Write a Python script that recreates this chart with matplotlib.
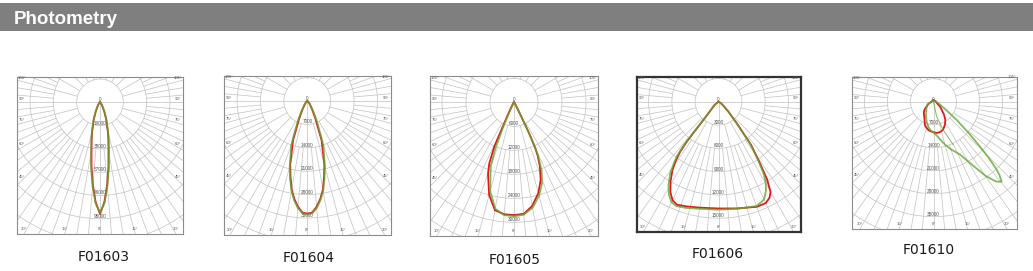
import numpy as np
import matplotlib
matplotlib.use('Agg')
import matplotlib.pyplot as plt
from matplotlib.patches import Circle, Rectangle

W, H = 1033, 271

MODELS = ['F01603', 'F01604', 'F01605', 'F01606', 'F01610']
RING_STEP = [19000, 7000, 6000, 3000, 7000]  # cd per ring

# photometric curves: angle from nadir (deg, negative = left), intensity (cd)
F01603_ANG = [-180, -90, -60, -45, -35, -25, -20, -15, -12.5, -10, -7.5, -5, -2.5, 0,
              2.5, 5, 7.5, 10, 12.5, 15, 20, 25, 35, 45, 60, 90, 180]
F01603_RED = [0, 0, 200, 900, 2700, 8200, 14800, 24900, 31600, 39900, 53100, 67300, 81500, 91000,
              81500, 67300, 53100, 39900, 31600, 24900, 14800, 8200, 2700, 900, 200, 0, 0]
F01603_GREEN = [0, 0, 250, 1000, 3000, 8800, 15500, 26000, 33000, 42000, 55000, 69000, 82500, 90000,
                82500, 69000, 55000, 42000, 33000, 26000, 15500, 8800, 3000, 1000, 250, 0, 0]

F01604_ANG = [-180, -90, -60, -50, -40, -30, -25, -20, -15, -12.5, -10, -7.5, -5, -2.5, 0,
              2.5, 5, 7.5, 10, 12.5, 15, 20, 25, 30, 40, 50, 60, 90, 180]
F01604_RED = [0, 0, 100, 300, 1000, 2800, 5600, 12500, 19750, 23200, 26900, 29600, 31800, 33400, 33700,
              33400, 31800, 29600, 26900, 23200, 19750, 12500, 5600, 2800, 1000, 300, 100, 0, 0]
F01604_GREEN = [0, 0, 100, 400, 1200, 3500, 7000, 14000, 20300, 23800, 27300, 30000, 32200, 33600, 34000,
                33600, 32200, 30000, 27300, 23800, 20300, 14000, 7000, 3500, 1200, 400, 100, 0, 0]

F01605_ANG = [-180, -90, -40, -30, -27, -25, -24, -22, -20, -15, -10, -5, 0,
              5, 10, 15, 19, 22, 24, 25, 26, 27, 30, 40, 90, 180]
F01605_RED = [0, 0, 300, 1000, 2500, 6000, 12000, 16500, 19000, 24000, 27400, 28100, 28200,
              28000, 26300, 23500, 20500, 17300, 14500, 12500, 8500, 4000, 1200, 300, 0, 0]
F01605_GREEN = [0, 0, 200, 600, 1500, 3000, 6000, 12500, 17000, 23000, 27000, 28300, 28500,
                28200, 26800, 24200, 21500, 18500, 15000, 12000, 8000, 4500, 1500, 300, 0, 0]

F01606_ANG = [-180, -90, -50, -45, -40, -39, -38.5, -37.5, -36, -34, -31, -28, -25, -22, -17, -10, -5, 0,
              5, 10, 20, 25, 28, 30, 32, 34, 37, 40, 45, 50, 60, 90, 180]
F01606_RED = [0, 0, 600, 1000, 2500, 4500, 6500, 8100, 9300, 10600, 12000, 13200, 14000, 14300, 14100, 13850, 13750, 13750,
              13800, 13950, 14400, 14400, 14000, 13400, 11800, 9500, 7000, 3800, 1800, 900, 300, 0, 0]
F01606_GREEN = [0, 0, 700, 1200, 3000, 5000, 7000, 8700, 9800, 11100, 12500, 13600, 14300, 14500, 14300, 14000, 13900, 13900,
                13900, 14000, 14300, 13900, 13000, 12200, 11000, 9200, 6800, 3700, 1700, 800, 300, 0, 0]

F01610_RED_ANG = [-180, -135, -90, -65, -48, -41, -29, -21, -18, -10, -6, 0, 6, 10, 15, 20, 26.5, 33,
                  37.5, 40, 45, 50, 53, 60, 72, 90, 135, 180]
F01610_RED = [400, 500, 700, 1800, 3750, 4500, 5700, 7400, 7900, 8800, 9000, 9300, 9550, 9500, 9300, 8800, 7800, 6600,
              5400, 4800, 3500, 2900, 2500, 1500, 1000, 700, 500, 400]
F01610_GREEN_ANG = [-180, -135, -90, -65, -48, -41, -29, -21, -18, -10, -6, 0, 6, 10, 15, 20, 26.5, 31, 35,
                    38, 40.4, 42, 43, 44.5, 46, 48.5, 51.7, 56, 62, 72, 90, 135, 180]
F01610_GREEN = [300, 400, 600, 2000, 2900, 3300, 4800, 6000, 6600, 8100, 8700, 9400, 10500, 11700, 13500, 15400, 17900, 22000, 27500,
                30800, 32000, 30000, 28000, 24000, 19700, 14000, 9000, 5000, 2800, 1600, 800, 400, 300]
# faint second green trace starting at the origin
F01610_GREEN2_ANG = [8, 12, 19, 24.6]
F01610_GREEN2 = [0, 4660, 9100, 14500]

CURVES = [
    [(F01603_ANG, F01603_RED), (F01603_ANG, F01603_GREEN)],
    [(F01604_ANG, F01604_RED), (F01604_ANG, F01604_GREEN)],
    [(F01605_ANG, F01605_RED), (F01605_ANG, F01605_GREEN)],
    [(F01606_ANG, F01606_RED), (F01606_ANG, F01606_GREEN)],
    [(F01610_RED_ANG, F01610_RED), (F01610_GREEN_ANG, F01610_GREEN), (F01610_GREEN2_ANG, F01610_GREEN2)],
]

# layout in pixels: box (left, top, right, bottom), center, ring spacing, label (x, baseline)
BOXES = [(17, 77, 183, 234), (224, 76, 391, 235), (430, 76, 598, 236), (637, 77, 801, 232), (852, 77, 1017, 229)]
CENTERS = [(100, 102.3), (307.3, 101), (514, 102.3), (718.5, 101.7), (933.5, 101.7)]
RING_PX = [23.3, 23.4, 24.0, 23.3, 23.0]
LABEL_POS = [(104, 261), (309, 262.5), (515, 263.5), (718, 258.5), (929, 253.5)]

RED = '#e3161b'
GREEN = '#67a634'
GRID = '#c6c6c6'
TXT = '#555555'
STYLES = [(RED, 1.3, 1.0), (GREEN, 1.3, 0.8), (GREEN, 0.7, 0.8)]


def draw_panel(fig, box, center, ring_px, step, curves, heavy):
    left, top, right, bottom = box
    cx, cy = center
    ax = fig.add_axes([left / W, 1 - bottom / H, (right - left) / W, (bottom - top) / H])
    k = step / ring_px
    ax.set_xlim((left - cx) * k, (right - cx) * k)
    ax.set_ylim(-(bottom - cy) * k, (cy - top) * k)
    ax.set_xticks([])
    ax.set_yticks([])
    for sp in ax.spines.values():
        sp.set_color('#333333' if heavy else '#8c8c8c')
        sp.set_linewidth(1.6 if heavy else 0.8)

    # polar grid
    for n in range(1, 13):
        ax.add_patch(Circle((0, 0), n * step, fill=False, ec=GRID, lw=0.55))
    far = 14 * step
    for a in range(-175, 185, 5):
        if a in (0, 90, -90):
            r0 = 0
        elif a % 15 == 0:
            r0 = step
        else:
            r0 = 2 * step
        t = np.radians(a)
        ax.plot([r0 * np.sin(t), far * np.sin(t)], [-r0 * np.cos(t), -far * np.cos(t)],
                color=GRID, lw=0.55, zorder=1)

    # ring values
    ax.text(0, 0, '0', ha='center', va='bottom', fontsize=3.3, color=TXT, family='Liberation Sans')
    for n in range(1, 6):
        ax.text(0, -n * step, str(n * step), ha='center', va='bottom', fontsize=3.3,
                color=TXT, family='Liberation Sans')

    # angle labels on the frame
    xl, xr = left - cx, right - cx
    yb, yt = bottom - cy, cy - top
    for a in (105, 90, 75, 60, 45, 30, 15, 0):
        for side in (-1, 1):
            if a == 0 and side == 1:
                continue
            t = np.radians(a)
            sx, cy_ = np.sin(t), np.cos(t)
            t_side = (xr if side > 0 else -xl) / sx if sx > 1e-9 else np.inf
            if cy_ > 1e-9:
                t_y = yb / cy_
            elif cy_ < -1e-9:
                t_y = yt / -cy_
            else:
                t_y = np.inf
            if t_side <= t_y:
                edge = xr if side > 0 else xl
                px = edge - side * 5
                py = cy_ * abs(px) / sx - 3.3
            else:
                px = side * t_y * sx
                px = min(max(px, xl + 5), xr - 5)
                py = yb - 4.7
            ax.text(px * k, -py * k, f'{a}°', ha='center', va='center', fontsize=3.1,
                    color=TXT, family='Liberation Sans')

    for (ang, vals), (col, lw, alpha) in zip(curves, STYLES):
        t = np.radians(ang)
        v = np.asarray(vals, dtype=float)
        ax.plot(v * np.sin(t), -v * np.cos(t), color=col, lw=lw, alpha=alpha,
                solid_joinstyle='round', zorder=3)
    return ax


fig = plt.figure(figsize=(W / 100, H / 100), dpi=100)
fig.patch.set_facecolor('white')

# header bar
fig.add_artist(Rectangle((0, 1 - 30.7 / H), 1, 27.4 / H, transform=fig.transFigure,
                         facecolor='#7f7f7f', edgecolor='none'))
fig.text(14 / W, 1 - 24 / H, 'Photometry', color='white', fontsize=13.5, fontweight='bold',
         family='Liberation Sans', va='baseline', ha='left')

for i, name in enumerate(MODELS):
    draw_panel(fig, BOXES[i], CENTERS[i], RING_PX[i], RING_STEP[i], CURVES[i], heavy=(name == 'F01606'))
    lx, ly = LABEL_POS[i]
    fig.text(lx / W, 1 - ly / H, name, ha='center', va='baseline', fontsize=10,
             color='#1a1a1a', family='DejaVu Sans')

fig.savefig('out.png', dpi=100)
